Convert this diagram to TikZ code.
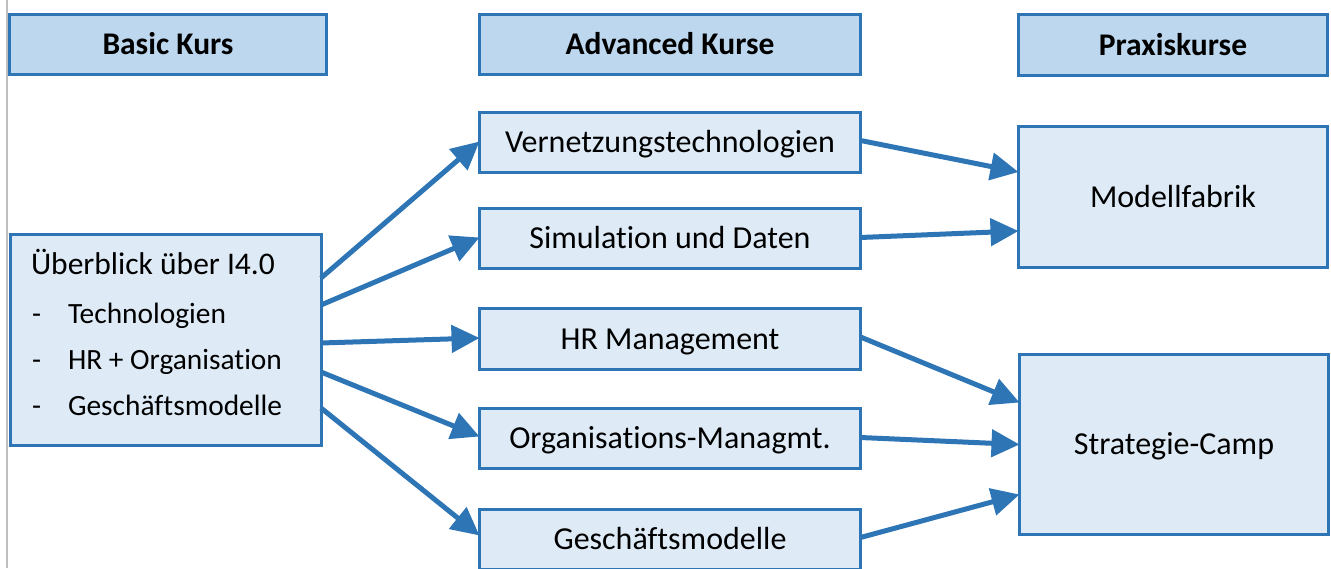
\documentclass[tikz,border=0pt]{standalone}
\usepackage{fontspec}
\setmainfont[Ligatures=NoCommon]{Carlito}
\usetikzlibrary{arrows.meta}
\definecolor{bord}{RGB}{46,117,182}
\definecolor{hfill}{RGB}{189,215,238}
\definecolor{bfill}{RGB}{222,235,247}
\begin{document}
\begin{tikzpicture}[x=1pt,y=-1pt,
  every node/.style={font=\fontsize{32}{37}\selectfont, inner sep=0pt, outer sep=0pt},
  box/.style={draw=bord, line width=3pt, text height=24pt, text depth=4pt},
  hbox/.style={box, fill=hfill, font=\fontsize{31.5}{37}\selectfont\bfseries},
  bbox/.style={box, fill=bfill},
  arr/.style={draw=bord, line width=5pt, -{Triangle[length=28pt,width=27pt]}},
  plain/.style={anchor=base west},
  item/.style={anchor=base west, font=\fontsize{29.4}{35}\selectfont}
]
\useasboundingbox (0,0) rectangle (1331,568);
\clip (0,0) rectangle (1331,568);
\draw[black!25, line width=1.5pt] (7,0) -- (7,568);

% headers
\node[hbox, minimum width=317pt, minimum height=60pt] (hbasic) at (168,44.5) {Basic Kurs};
\node[hbox, minimum width=381pt, minimum height=60pt] (hadv) at (670,44.5) {Advanced Kurse};
\node[hbox, minimum width=309pt, minimum height=61pt] (hprax) at (1173,45) {Praxiskurse};

% left box
\node[bbox, minimum width=311pt, minimum height=211pt] (basic) at (165.5,340) {};
\node[plain, font=\fontsize{31.5}{37}\selectfont] (t0) at (31,274) {Überblick über I4.0};
\node[item] (d1) at (32,323) {-};
\node[item] (t1) at (68,323) {Technologien};
\node[item] (d2) at (32,369) {-};
\node[item] (t2) at (68,369) {HR + Organisation};
\node[item] (d3) at (32,415) {-};
\node[item] (t3) at (68,415) {Geschäftsmodelle};

% middle column
\node[bbox, minimum width=381pt, minimum height=60pt] (vern) at (670,142.5) {Vernetzungstechnologien};
\node[bbox, minimum width=381pt, minimum height=60pt] (sim) at (670,238.5) {Simulation und Daten};
\node[bbox, minimum width=381pt, minimum height=61pt] (hr) at (670,339) {HR Management};
\node[bbox, minimum width=381pt, minimum height=60pt] (org) at (670,438.5) {Organisations-Managmt.};
\node[bbox, minimum width=381pt, minimum height=60pt] (gesch) at (670,539.5) {Geschäftsmodelle};

% right column
\node[bbox, minimum width=309pt, minimum height=141pt] (modell) at (1173,197) {Modellfabrik};
\node[bbox, minimum width=309pt, minimum height=180pt] (strat) at (1174,444.5) {Strategie-Camp};

% arrows left -> middle
\draw[arr] ([yshift=62pt]basic.east) -- ([yshift=1pt]vern.west);
\draw[arr] ([yshift=35pt]basic.east) -- ([yshift=1pt]sim.west);
\draw[arr] ([yshift=-3pt]basic.east) -- ([yshift=1pt]hr.west);
\draw[arr] ([yshift=-32pt]basic.east) -- ([yshift=2pt]org.west);
\draw[arr] ([yshift=-68pt]basic.east) -- ([yshift=4pt]gesch.west);

% arrows middle -> right
\draw[arr] ([yshift=2pt]vern.east) -- ([yshift=25pt]modell.west);
\draw[arr] ([yshift=1pt]sim.east) -- ([yshift=-34pt]modell.west);
\draw[arr] ([yshift=2pt]hr.east) -- ([yshift=42pt]strat.west);
\draw[arr] ([yshift=1pt]org.east) -- ([yshift=0pt]strat.west);
\draw[arr] ([yshift=2pt]gesch.east) -- ([yshift=-50pt]strat.west);
\end{tikzpicture}
\end{document}
